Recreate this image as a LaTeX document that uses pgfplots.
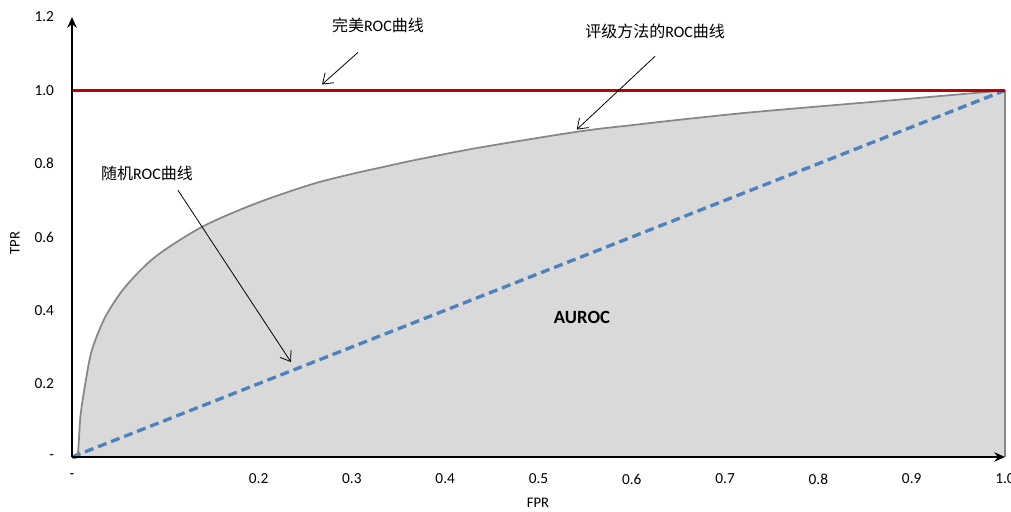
\documentclass[border=0pt]{standalone}
\usepackage{fontspec}
\setmainfont{Carlito}
\newfontfamily\cjk{Noto Sans CJK SC}
\usepackage{pgfplots}
\pgfplotsset{compat=1.18}
\usetikzlibrary{arrows.meta}
\definecolor{areagray}{RGB}{217,217,217}
\definecolor{curvegray}{RGB}{134,134,134}
\definecolor{perfred}{RGB}{192,0,0}
\definecolor{randblue}{RGB}{79,129,189}

\pgfplotstableread{
x y
0 0
0.006 0.005
0.009 0.110
0.0143 0.201
0.0214 0.292
0.0357 0.382
0.0571 0.464
0.0893 0.546
0.1393 0.6275
0.1965 0.691
0.2572 0.744
0.30 0.772
0.33 0.789
0.366 0.809
0.437 0.844
0.544 0.888
0.60 0.905
0.652 0.920
0.732 0.941
0.879 0.973
1.0 1.0
}\roccurve

\begin{document}
\begin{tikzpicture}[x=0.75pt,y=0.75pt]
\begin{axis}[
  at={(0,0)}, anchor=south west,
  scale only axis, width=699.75pt, height=330pt,
  xmin=0, xmax=1, ymin=0, ymax=1.2,
  axis lines=left,
  axis line style={black, line width=1.5pt, -{Stealth[length=8pt,width=7pt]}},
  axis on top, clip=false,
  major tick length=0pt,
  xtick={0,0.2,0.3,0.4,0.5,0.6,0.7,0.8,0.9,1.0},
  xticklabels={-,0.2,0.3,0.4,0.5,0.6,0.7,0.8,0.9,1.0},
  ytick={0,0.2,0.4,0.6,0.8,1.0,1.2},
  yticklabels={-,0.2,0.4,0.6,0.8,1.0,1.2},
  ticklabel style={font=\fontsize{11.5}{13}\selectfont},
  xticklabel style={yshift=-9pt},
  yticklabel style={xshift=-10pt},
  xlabel={FPR}, ylabel={TPR},
  every axis x label/.style={at={(axis description cs:0.4995,-0.1045)}, anchor=center, font=\fontsize{11}{13}\selectfont},
  every axis y label/.style={at={(axis description cs:-0.0611,0.486)}, anchor=center, rotate=90, font=\fontsize{11}{13}\selectfont},
]
\addplot[fill=areagray, draw=none, smooth, tension=0.5] table {\roccurve} \closedcycle;
\addplot[randblue, line width=2.5pt, dash pattern=on 6.75pt off 3.75pt] coordinates {(0,0) (1,1)};
\addplot[curvegray, line width=1.3pt, smooth, tension=0.5] table {\roccurve};
\addplot[curvegray, line width=0.9pt] coordinates {(1,0) (1,1)};
\addplot[perfred, line width=2.2pt] coordinates {(0,1) (1,1)};

\node[font=\fontsize{12}{14}\selectfont] at (axis cs:0.328,1.177) {{\cjk 完美}ROC{\cjk 曲线}};
\node[font=\fontsize{12}{14}\selectfont] at (axis cs:0.625,1.161) {{\cjk 评级方法的}ROC{\cjk 曲线}};
\node[font=\fontsize{12}{14}\selectfont] at (axis cs:0.0804,0.774) {{\cjk 随机}ROC{\cjk 曲线}};
\node[font=\bfseries\fontsize{14}{16}\selectfont] at (axis cs:0.5466,0.3815) {AUROC};

\draw[black, line width=0.6pt, -{Straight Barb[length=7pt,width=10pt]}] (axis cs:0.3065,1.1035) -- (axis cs:0.268,1.016);
\draw[black, line width=0.6pt, -{Straight Barb[length=7pt,width=10pt]}] (axis cs:0.625,1.093) -- (axis cs:0.541,0.893);
\draw[black, line width=0.6pt, -{Straight Barb[length=7pt,width=10pt]}] (axis cs:0.1136,0.7275) -- (axis cs:0.2347,0.2589);
\end{axis}
\pgfresetboundingbox
\path[use as bounding box] (-72,-54) rectangle (939,457);
\end{tikzpicture}
\end{document}
